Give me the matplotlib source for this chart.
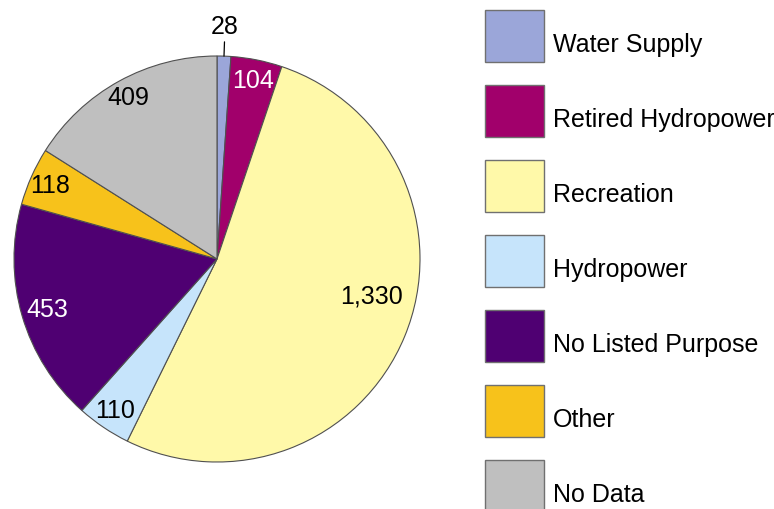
import numpy as np
import matplotlib
matplotlib.use("Agg")
import matplotlib.pyplot as plt
from matplotlib.patches import Patch, Rectangle
from matplotlib.legend_handler import HandlerPatch

plt.rcParams['font.family'] = ['Liberation Sans', 'DejaVu Sans']

purposes = ["Water Supply", "Retired Hydropower", "Recreation", "Hydropower",
            "No Listed Purpose", "Other", "No Data"]
counts = [28, 104, 1330, 110, 453, 118, 409]
colors = ["#9ba6d9", "#a1006b", "#fff9a9", "#c6e4fb", "#4f0072", "#f7c21b", "#bfbfbf"]
text_colors = ["black", "white", "black", "black", "white", "black", "black"]
# label placement: radius as a fraction of the pie, and a nudge to the angle (degrees)
label_r = [1.15, 0.90, 0.78, 0.90, 0.87, 0.90, 0.91]
label_shift = [0, 0, 9, 0, 0, 0, 0]

FS = 18

fig = plt.figure(figsize=(7.74, 5.10), dpi=100)
ax = fig.add_axes([14 / 774, 47 / 510, 406 / 774, 406 / 510])

wedges, _ = ax.pie(counts, colors=colors, startangle=90, counterclock=False,
                   radius=1.0,
                   wedgeprops=dict(edgecolor="#505050", linewidth=0.8))
ax.set_xlim(-1, 1)
ax.set_ylim(-1, 1)
ax.set_aspect("equal")
ax.axis("off")

for i, w in enumerate(wedges):
    ang = np.deg2rad((w.theta1 + w.theta2) / 2 + label_shift[i])
    x, y = label_r[i] * np.cos(ang), label_r[i] * np.sin(ang)
    txt = f"{counts[i]:,}"
    if label_r[i] > 1:
        # small slice: label above the pie with a leader line
        ax.annotate(txt, xy=(np.cos(ang), np.sin(ang)), xytext=(x, y),
                    ha="center", va="center", fontsize=FS, color=text_colors[i],
                    arrowprops=dict(arrowstyle="-", color="black", lw=0.9,
                                    shrinkA=1, shrinkB=0),
                    annotation_clip=False)
    else:
        ax.text(x, y, txt, ha="center", va="center", fontsize=FS,
                color=text_colors[i])


def raised_box(legend, orig_handle, xdescent, ydescent, width, height, fontsize):
    # lift the swatch a little so the label sits slightly below its centre
    return Rectangle((-xdescent, -ydescent + 0.3 * fontsize), width, height)


handles = [Patch(facecolor=c, edgecolor="#707070", linewidth=1.0) for c in colors]
fig.legend(handles, purposes, loc="upper left",
           bbox_to_anchor=(485 / 774, 1 - 18.5 / 510), bbox_transform=fig.transFigure,
           frameon=False, fontsize=FS, handlelength=2.36, handleheight=2.82,
           labelspacing=0.92, handletextpad=0.36, borderpad=0, borderaxespad=0,
           handler_map={Patch: HandlerPatch(patch_func=raised_box)})

fig.savefig("out.png", dpi=100, facecolor="white")
